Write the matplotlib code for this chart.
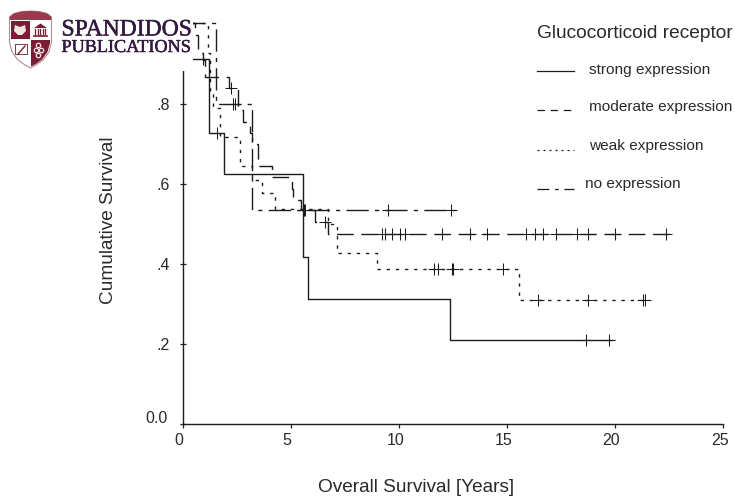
import numpy as np
import matplotlib
matplotlib.use("Agg")
import matplotlib.pyplot as plt
import matplotlib.patheffects as pe
from matplotlib.patches import Polygon, Rectangle
from matplotlib.lines import Line2D
from matplotlib.transforms import ScaledTranslation

plt.rcParams['font.family'] = ['Liberation Sans', 'DejaVu Sans']

# ---- data ----
strong_t = [0, 0.3, 1.21, 1.9, 5.56, 5.78, 12.35, 19.86]
strong_s = [1.0, 0.91, 0.726, 0.625, 0.417, 0.313, 0.21, 0.21]
strong_c = [0.95, 1.6, 18.65, 19.7]

moderate_t = [0, 0.57, 0.72, 0.95, 1.03, 2.16, 2.57, 2.8, 3.11, 3.19, 3.5, 4.11, 5.04, 5.12, 5.46, 6.12, 6.73, 22.5]
moderate_s = [1.0, 0.971, 0.925, 0.908, 0.867, 0.838, 0.784, 0.755, 0.727, 0.70, 0.644, 0.617, 0.588, 0.559, 0.534, 0.505, 0.474, 0.474]
moderate_c = [2.22, 5.6, 6.6, 9.2, 9.35, 9.67, 10.04, 10.27, 11.98, 13.29, 14.06, 15.88, 16.3, 16.65,
              17.27, 18.22, 18.76, 20.0, 22.34]

weak_t = [0, 1.15, 1.26, 1.39, 1.72, 2.65, 3.19, 3.65, 4.27, 6.70, 7.15, 9.0, 15.57, 21.58]
weak_s = [1.0, 0.925, 0.825, 0.788, 0.717, 0.644, 0.609, 0.576, 0.538, 0.50, 0.428, 0.388, 0.311, 0.311]
weak_c = [11.64, 11.79, 12.44, 12.52, 14.8, 16.42, 18.76, 21.3, 21.4]

none_t = [0, 1.52, 3.21, 12.6]
none_s = [1.0, 0.80, 0.534, 0.534]
none_c = [2.33, 2.42, 5.67, 9.52, 12.4]

series_labels = ['strong expression', 'moderate expression', 'weak expression', 'no expression']
legend_title = 'Glucocorticoid receptor'
x_ticks = [0, 5, 10, 15, 20, 25]
y_ticks = [0.0, 0.2, 0.4, 0.6, 0.8]
y_tick_labels = ['0.0', '.2', '.4', '.6', '.8']

W, H = 735, 497
INK = '#1c1c1c'
TXT = '#2a2a2a'
fig = plt.figure(figsize=(W / 100, H / 100), dpi=100, facecolor='white')
ax = fig.add_axes([182.7 / W, (H - 424.3) / H, 540.4 / W, 401 / H])
ax.set_xlim(0, 25)
ax.set_ylim(0, 1)
ax.patch.set_alpha(0)

styles = [
    (strong_t, strong_s, strong_c, '-'),
    (moderate_t, moderate_s, moderate_c, (0, (12, 5.5))),
    (weak_t, weak_s, weak_c, (0, (2.4, 4.2))),
    (none_t, none_s, none_c, (0, (16, 4.5, 3, 4.5))),
]
for t, s, c, ls in styles:
    ax.plot(t, s, drawstyle='steps-post', color=INK, lw=1.0, ls=ls, clip_on=False, zorder=3)
    idx = np.searchsorted(t, c, side='right') - 1
    ax.plot(c, np.array(s)[idx], ls='none', marker='+', ms=8, mew=0.75, color=INK, clip_on=False, zorder=3)

for side in ['top', 'right']:
    ax.spines[side].set_visible(False)
for side in ['left', 'bottom']:
    ax.spines[side].set_linewidth(1.0)
    ax.spines[side].set_color(INK)
ax.set_xticks(x_ticks)
ax.set_xticklabels([str(v) for v in x_ticks])
ax.set_yticks(y_ticks)
ax.set_yticklabels(y_tick_labels)
ax.tick_params(axis='x', length=3, width=0.9, color=INK, labelsize=11.5, labelcolor=TXT, pad=3.5, direction='out')
ax.tick_params(axis='y', length=5, width=0.9, color=INK, labelsize=11.5, labelcolor=TXT, pad=6.5, direction='inout')
for lab in ax.get_xticklabels():
    lab.set_transform(lab.get_transform() + ScaledTranslation(-3.5 / 100, 0, fig.dpi_scale_trans))
for lab, val in zip(ax.get_yticklabels(), y_ticks):
    if val == 0.0:
        lab.set_transform(lab.get_transform() + ScaledTranslation(-3 / 100, 7 / 100, fig.dpi_scale_trans))


def fx(x):
    return x / W


def fy(y):
    return 1 - y / H


fig.text(fx(416.5), fy(487.5), 'Overall Survival [Years]', ha='center', va='center', fontsize=13.7, color=TXT)
fig.text(fx(108), fy(220), 'Cumulative Survival', ha='center', va='center', rotation=90, fontsize=13.7, color=TXT)

# legend, placed by hand as in the source figure
fig.text(fx(537), fy(34), legend_title, ha='left', va='center', fontsize=13.8, color=TXT)
leg_text_x = [589, 589, 589, 585]
leg_text_y = [70, 107, 146, 184]
leg_line_y = [70.5, 110, 150, 189]
leg_styles = ['-', (0, (6, 4.5)), (0, (1.6, 3.2)), (0, (9.5, 4.5, 3, 4.5, 9))]
for lab, tx, ty, ly, ls in zip(series_labels, leg_text_x, leg_text_y, leg_line_y, leg_styles):
    fig.text(fx(tx), fy(ty), lab, ha='left', va='center', fontsize=11.1, color=TXT)
    fig.add_artist(Line2D([fx(537), fx(574)], [fy(ly), fy(ly)], color=INK, lw=0.9, ls=ls))

# publisher logo on top, in pixel coordinates
lg = fig.add_axes([0, 0, 1, 1], zorder=10)
lg.set_xlim(0, W)
lg.set_ylim(H, 0)
lg.axis('off')
lg.patch.set_alpha(0)
lg.add_patch(Rectangle((0, 0), 193.5, 71, fc='white', ec='none'))
RED = '#7a1c33'
PUR = '#33193f'
outline = [(9.5, 17), (14, 13.5), (22, 11.5), (30.5, 11), (39, 11.5), (47, 13.5), (51.5, 17), (51.5, 42),
           (49, 52), (43, 60), (36, 65), (30.5, 68), (25, 65), (18, 60), (12, 52), (9.5, 42)]
lg.add_patch(Polygon(outline, closed=True, fc='white', ec='#b58a93', lw=0.8))
lg.add_patch(Polygon([(9.5, 17), (14, 13.5), (22, 11.5), (30.5, 11), (39, 11.5), (47, 13.5), (51.5, 17), (51, 20), (10, 20)],
                     closed=True, fc='#9a3a4c', ec='none'))
lg.add_patch(Polygon([(11, 21), (30, 21), (30, 39), (11, 39)], closed=True, fc=RED, ec='none'))
lg.add_patch(Polygon([(31, 40), (50, 40), (50, 43), (47.5, 52), (42, 59.5), (36, 64), (31, 66.5)], closed=True, fc=RED, ec='none'))
# quadrant emblems
lg.add_patch(Polygon([(15, 25), (20, 27), (25, 25), (26, 31), (22, 35), (18, 35), (14, 31)], closed=True, fc='#f1e6e4', ec='none'))
lg.add_patch(Polygon([(34, 28), (40.5, 23.5), (47, 28)], closed=True, fc=RED, ec='none'))
for px_ in [35.5, 38, 40.5, 43, 45.5]:
    lg.plot([px_, px_], [29, 34], color=RED, lw=0.9)
lg.plot([34, 47], [35.5, 35.5], color=RED, lw=1.2)
lg.plot([15, 27, 27, 15, 15], [44, 44, 54, 54, 44], color='#7a3a48', lw=0.7)
lg.plot([18, 25], [54, 46], color=RED, lw=1.0)
for cx, cy in [(38, 45), (36, 50), (41, 50), (38.5, 55)]:
    lg.plot([cx], [cy], marker='o', ms=3.2, mfc='none', mec='#f1e6e4', mew=0.9, ls='none')
stroke = [pe.withStroke(linewidth=0.35, foreground=PUR)]
lg.text(61.5, 30, 'SPANDIDOS', family='Liberation Serif', fontsize=17.0, color=PUR, ha='left', va='center', path_effects=stroke)
lg.text(61.5, 47.5, 'PUBLICATIONS', family='Liberation Serif', fontsize=13.1, color=PUR, ha='left', va='center', path_effects=stroke)

fig.savefig('out.png', dpi=100)
